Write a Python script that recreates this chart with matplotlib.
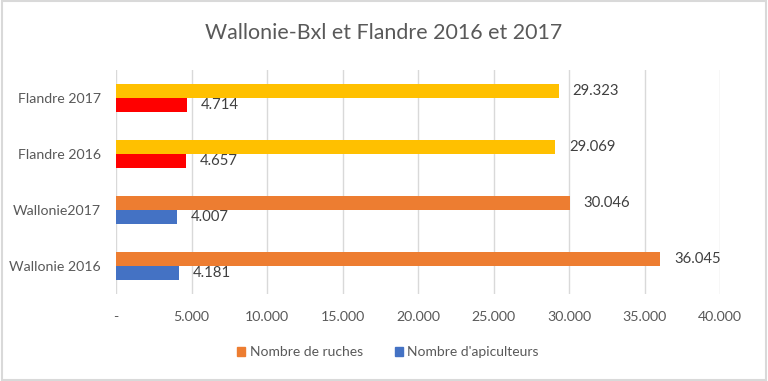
import numpy as np
import matplotlib.pyplot as plt
from matplotlib.patches import Patch

categories = ["Wallonie 2016", "Wallonie2017", "Flandre 2016", "Flandre 2017"]
ruches = [36045, 30046, 29069, 29323]
apiculteurs = [4181, 4007, 4657, 4714]
ruches_colors = ["#ED7D31", "#ED7D31", "#FFC000", "#FFC000"]
api_colors = ["#4472C4", "#4472C4", "#FF0000", "#FF0000"]
xticks = [0, 5000, 10000, 15000, 20000, 25000, 30000, 35000, 40000]
xtick_labels = ["-", "5.000", "10.000", "15.000", "20.000", "25.000", "30.000", "35.000", "40.000"]


def fmt(v):
    return f"{v:,}".replace(",", ".")


plt.rcParams['font.family'] = ['Lato', 'DejaVu Sans']
text_col = "#595959"

fig = plt.figure(figsize=(7.68, 3.81), dpi=100)
ax = fig.add_axes([116 / 768, 1 - 294 / 381, (720 - 116) / 768, 224 / 381])

y = np.arange(len(categories))
h = 0.255
ax.barh(y + h / 2, ruches, height=h, color=ruches_colors, zorder=3)
ax.barh(y - h / 2, apiculteurs, height=h, color=api_colors, zorder=3)

# data labels next to the bar ends
for yi, v in zip(y, ruches):
    ax.annotate(fmt(v), (v, yi + h / 2), xytext=(10, 0), textcoords="offset points",
                va="center", ha="left", fontsize=10.7, color="#404040")
for yi, v in zip(y, apiculteurs):
    ax.annotate(fmt(v), (v, yi - h / 2), xytext=(10, 0), textcoords="offset points",
                va="center", ha="left", fontsize=10.7, color="#404040")

ax.set_xlim(0, 40000)
ax.set_ylim(-0.5, 3.5)
ax.set_xticks(xticks)
ax.set_xticklabels(xtick_labels)
ax.set_yticks(y)
ax.set_yticklabels(categories)
ax.tick_params(axis="both", length=0, labelsize=10.2, colors=text_col)
ax.tick_params(axis="x", pad=12)
ax.tick_params(axis="y", pad=11)
ax.grid(axis="x", color="#D9D9D9", linewidth=1, zorder=0)
for s in ax.spines.values():
    s.set_visible(False)

fig.text(0.5, 0.913, "Wallonie-Bxl et Flandre 2016 et 2017", ha="center", va="center",
         fontsize=15.4, color=text_col)

handles = [Patch(color="#ED7D31"), Patch(color="#4472C4")]
fig.legend(handles, ["Nombre de ruches", "Nombre d'apiculteurs"], loc="center",
           bbox_to_anchor=(0.505, 0.076), ncol=2, frameon=False, fontsize=10,
           labelcolor=text_col, handlelength=0.6, handleheight=0.6, handletextpad=0.3,
           columnspacing=2.3)

fig.patches.append(plt.Rectangle((0.002, 0.003), 0.996, 0.994, transform=fig.transFigure,
                                 fill=False, edgecolor="#D9D9D9", linewidth=1.5))

fig.savefig("out.png", dpi=100)
